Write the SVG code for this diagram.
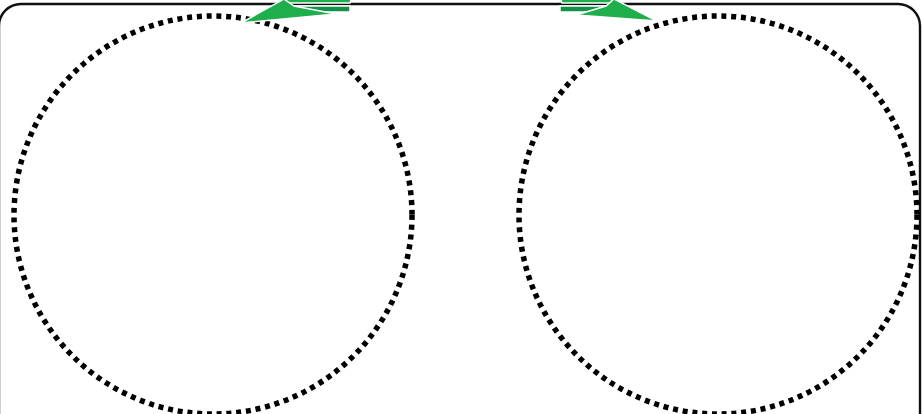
<svg xmlns="http://www.w3.org/2000/svg" width="923" height="414" viewBox="0 0 923 414">
<style>
.frame{fill:none;stroke:#111;stroke-width:2.4}
.dot{fill:none;stroke:#000;stroke-width:5.5;stroke-dasharray:5 4.8}
.g1{fill:#1fae4c;stroke:#fff;stroke-width:1.5;stroke-linejoin:miter}
.g2{fill:#14924a;stroke:#fff;stroke-width:1.5}
</style>
<rect class="frame" x="-1" y="4" width="921" height="440" rx="22"/>
<g id="node-left"><circle class="dot" cx="213" cy="215" r="199"/></g>
<g id="node-right"><circle class="dot" cx="718" cy="215" r="199"/></g>
<g id="connectors">
<polygon class="g1" points="286,-3 352,-3 350,3 286,3"/>
<polygon class="g1" points="560,-3 612,-3 612,3 562,3"/>
<polygon class="g2" points="290,6 350,6 350,12 290,12"/>
<polygon class="g2" points="560,6 610,6 610,12 560,12"/>
<polygon class="g1" points="241,23 284,-1 294,6 336,14"/>
<polygon class="g1" points="657,21 614,-1 606,6 576,15"/>
</g>
</svg>
